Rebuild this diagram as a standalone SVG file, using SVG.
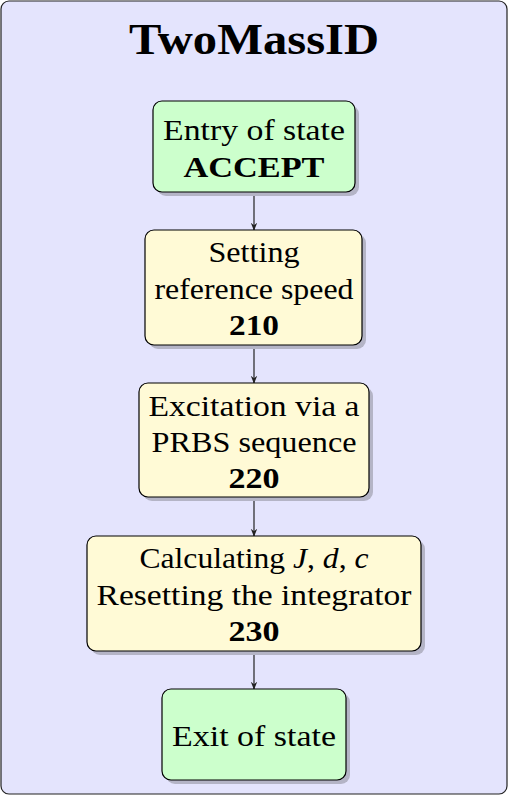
<svg xmlns="http://www.w3.org/2000/svg" width="508" height="795" viewBox="0 0 508 795">
<style>
.t{font-family:"Liberation Serif","DejaVu Serif",serif;font-size:30px;fill:#000;text-anchor:middle}
.b{font-weight:bold}
.title{font-size:44px}
.box{stroke:#000;stroke-width:1.2}
.g{fill:#ccffcc}
.y{fill:#fffad6}
.sh{fill:#b4b4c6}
.c{stroke:#222;stroke-width:1.2;fill:none}
</style>
<defs>
<marker id="ah" viewBox="0 0 10 10" refX="9" refY="5" markerWidth="8" markerHeight="8" markerUnits="userSpaceOnUse" orient="auto">
<path d="M0,1 L10,5 L0,9 L3,5 Z" fill="#222"/>
</marker>
</defs>
<g id="container">
<rect x="1" y="1" width="506" height="793" rx="8" fill="#e4e4fd" stroke="#222" stroke-width="1.2"/>
<text class="t b title" x="254" y="54" textLength="250" lengthAdjust="spacingAndGlyphs">TwoMassID</text>
</g>
<g id="connectors">
<line class="c" x1="254" y1="192" x2="254" y2="230" marker-end="url(#ah)"/>
<line class="c" x1="254" y1="345" x2="254" y2="383" marker-end="url(#ah)"/>
<line class="c" x1="254" y1="497" x2="254" y2="536" marker-end="url(#ah)"/>
<line class="c" x1="254" y1="651" x2="254" y2="689" marker-end="url(#ah)"/>
</g>
<g id="entry">
<rect class="sh" x="157" y="105" width="202" height="91" rx="9"/>
<rect class="box g" x="153" y="101" width="202" height="91" rx="9"/>
<text class="t" x="254" y="140" textLength="182" lengthAdjust="spacingAndGlyphs">Entry of state</text>
<text class="t b" x="254" y="177" textLength="141" lengthAdjust="spacingAndGlyphs">ACCEPT</text>
</g>
<g id="s210">
<rect class="sh" x="149" y="234" width="217" height="115" rx="9"/>
<rect class="box y" x="145" y="230" width="217" height="115" rx="9"/>
<text class="t" x="254" y="262" textLength="91" lengthAdjust="spacingAndGlyphs">Setting</text>
<text class="t" x="254" y="299" textLength="199" lengthAdjust="spacingAndGlyphs">reference speed</text>
<text class="t b" x="254" y="335" textLength="50" lengthAdjust="spacingAndGlyphs">210</text>
</g>
<g id="s220">
<rect class="sh" x="143" y="387" width="230" height="114" rx="9"/>
<rect class="box y" x="139" y="383" width="230" height="114" rx="9"/>
<text class="t" x="254" y="416" textLength="211" lengthAdjust="spacingAndGlyphs">Excitation via a</text>
<text class="t" x="254" y="452" textLength="205" lengthAdjust="spacingAndGlyphs">PRBS sequence</text>
<text class="t b" x="254" y="488" textLength="51" lengthAdjust="spacingAndGlyphs">220</text>
</g>
<g id="s230">
<rect class="sh" x="91" y="540" width="334" height="115" rx="9"/>
<rect class="box y" x="87" y="536" width="334" height="115" rx="9"/>
<text class="t" x="254" y="568" textLength="229" lengthAdjust="spacingAndGlyphs">Calculating <tspan font-style="italic">J</tspan>, <tspan font-style="italic">d</tspan>, <tspan font-style="italic">c</tspan></text>
<text class="t" x="254" y="605" textLength="315" lengthAdjust="spacingAndGlyphs">Resetting the integrator</text>
<text class="t b" x="254" y="641" textLength="51" lengthAdjust="spacingAndGlyphs">230</text>
</g>
<g id="exit">
<rect class="sh" x="166" y="693" width="184" height="91" rx="9"/>
<rect class="box g" x="162" y="689" width="184" height="91" rx="9"/>
<text class="t" x="254" y="746" textLength="164" lengthAdjust="spacingAndGlyphs">Exit of state</text>
</g>
</svg>
